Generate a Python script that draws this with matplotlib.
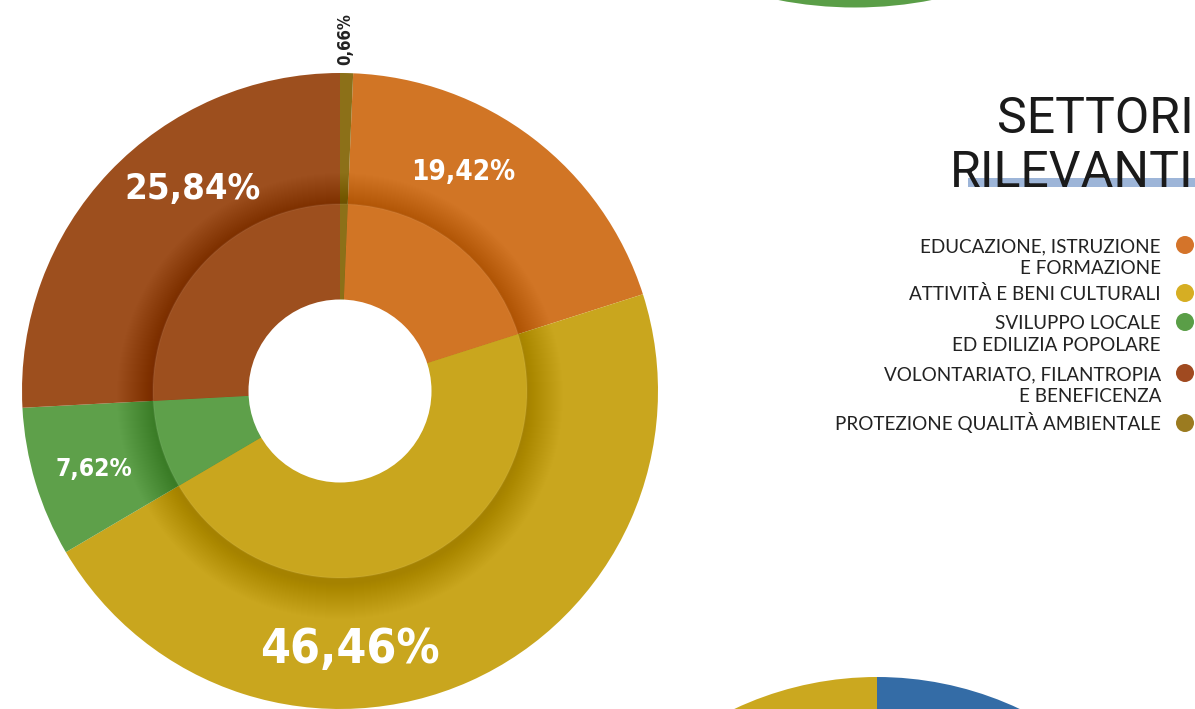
import matplotlib
matplotlib.use("Agg")
import matplotlib.pyplot as plt
from matplotlib.patches import Circle, Wedge, Rectangle

W, H = 1195, 709

# ---- data ----
categories = ["EDUCAZIONE, ISTRUZIONE\nE FORMAZIONE",
              "ATTIVITÀ E BENI CULTURALI",
              "SVILUPPO LOCALE\nED EDILIZIA POPOLARE",
              "VOLONTARIATO, FILANTROPIA\nE BENEFICENZA",
              "PROTEZIONE QUALITÀ AMBIENTALE"]
values = [19.42, 46.46, 7.62, 25.84, 0.66]
value_labels = ["19,42%", "46,46%", "7,62%", "25,84%", "0,66%"]
slice_colors = ["#D17525", "#C9A61E", "#5EA04A", "#9D4F1E", "#8C7018"]
legend_colors = ["#D4742A", "#D6AE23", "#5A9E47", "#A04A20", "#9B7B20"]

fig = plt.figure(figsize=(W / 100, H / 100), dpi=100)
ax = fig.add_axes([0, 0, 1, 1])

def Y(y):
    return H - y

cx, cy = 340, Y(391)
R_out, R_mid, R_hole = 318, 187, 91.5
start = 90 - values[-1] * 3.6

# decorative neighbouring charts (partially visible)
ax.add_patch(Wedge((855, Y(-392.5)), 400, 0, 360, facecolor="#5A9E47", edgecolor="none"))
ax.add_patch(Wedge((877, Y(1012)), 335, 90, 180, facecolor="#CBA81F", edgecolor="none"))
ax.add_patch(Wedge((877, Y(1012)), 335, 0, 90, facecolor="#346CA6", edgecolor="none"))

# outer ring
ax.pie(values, colors=slice_colors, startangle=start, counterclock=False,
       radius=R_out, center=(cx, cy),
       wedgeprops=dict(edgecolor="none", linewidth=0))

# soft shadow around the inner ring
n = 36
for i in range(n):
    r = R_mid + 36 - i
    ax.add_patch(Circle((cx, cy - 5), r, facecolor="black", alpha=0.005,
                        edgecolor="none", zorder=3))

# inner ring
wedges, _ = ax.pie(values, colors=slice_colors, startangle=start, counterclock=False,
                   radius=R_mid, center=(cx, cy),
                   wedgeprops=dict(edgecolor="none", linewidth=0))
for w in wedges:
    w.set_zorder(4)
ax.add_patch(Circle((cx, cy), R_mid, facecolor="none", edgecolor="#ffffff",
                    alpha=0.06, linewidth=1.2, zorder=5))
ax.add_patch(Circle((cx, cy), R_hole, facecolor="white", edgecolor="none", zorder=6))

# value labels
lab_font = dict(family="DejaVu Sans", fontstretch="condensed", fontweight="bold")
label_pos = [(463, 169, 20.3), (350, 645, 35), (94, 467, 18), (193, 186, 26.5)]
for (x, y, h), txt in zip(label_pos, value_labels[:4]):
    ax.text(x, Y(y), txt, color="white", fontsize=h / 0.729 * 0.72,
            ha="center", va="center_baseline", zorder=8, **lab_font)
ax.text(345, Y(39), value_labels[4], color="#222222", fontsize=12, rotation=90,
        ha="center", va="center", zorder=8, **lab_font)

# title
ax.add_patch(Rectangle((968, Y(187)), W - 968, 9, facecolor="#9DB5D8",
                       edgecolor="none", zorder=2))
title_font = dict(family="Roboto", fontweight="normal")
ax.text(1194, Y(133), "SETTORI", fontsize=36, color="#1a1a1a", ha="right",
        va="baseline", zorder=3, **title_font)
ax.text(1194, Y(187), "RILEVANTI", fontsize=36, color="#1a1a1a", ha="right",
        va="baseline", zorder=3, **title_font)

# legend
dot_y = [245, 293, 322, 373, 423]
for cat, col, dy in zip(categories, legend_colors, dot_y):
    lines = cat.split("\n")
    for k, line in enumerate(lines):
        ax.text(1161, Y(dy + 7 + 22 * k), line, fontsize=13.6, color="#222222",
                ha="right", va="baseline", family="Lato")
    ax.add_patch(Circle((1185, Y(dy)), 9, facecolor=col, edgecolor="none"))

ax.set_xlim(0, W)
ax.set_ylim(0, H)
ax.set_aspect("equal")
ax.axis("off")
fig.savefig("out.png", dpi=100)
